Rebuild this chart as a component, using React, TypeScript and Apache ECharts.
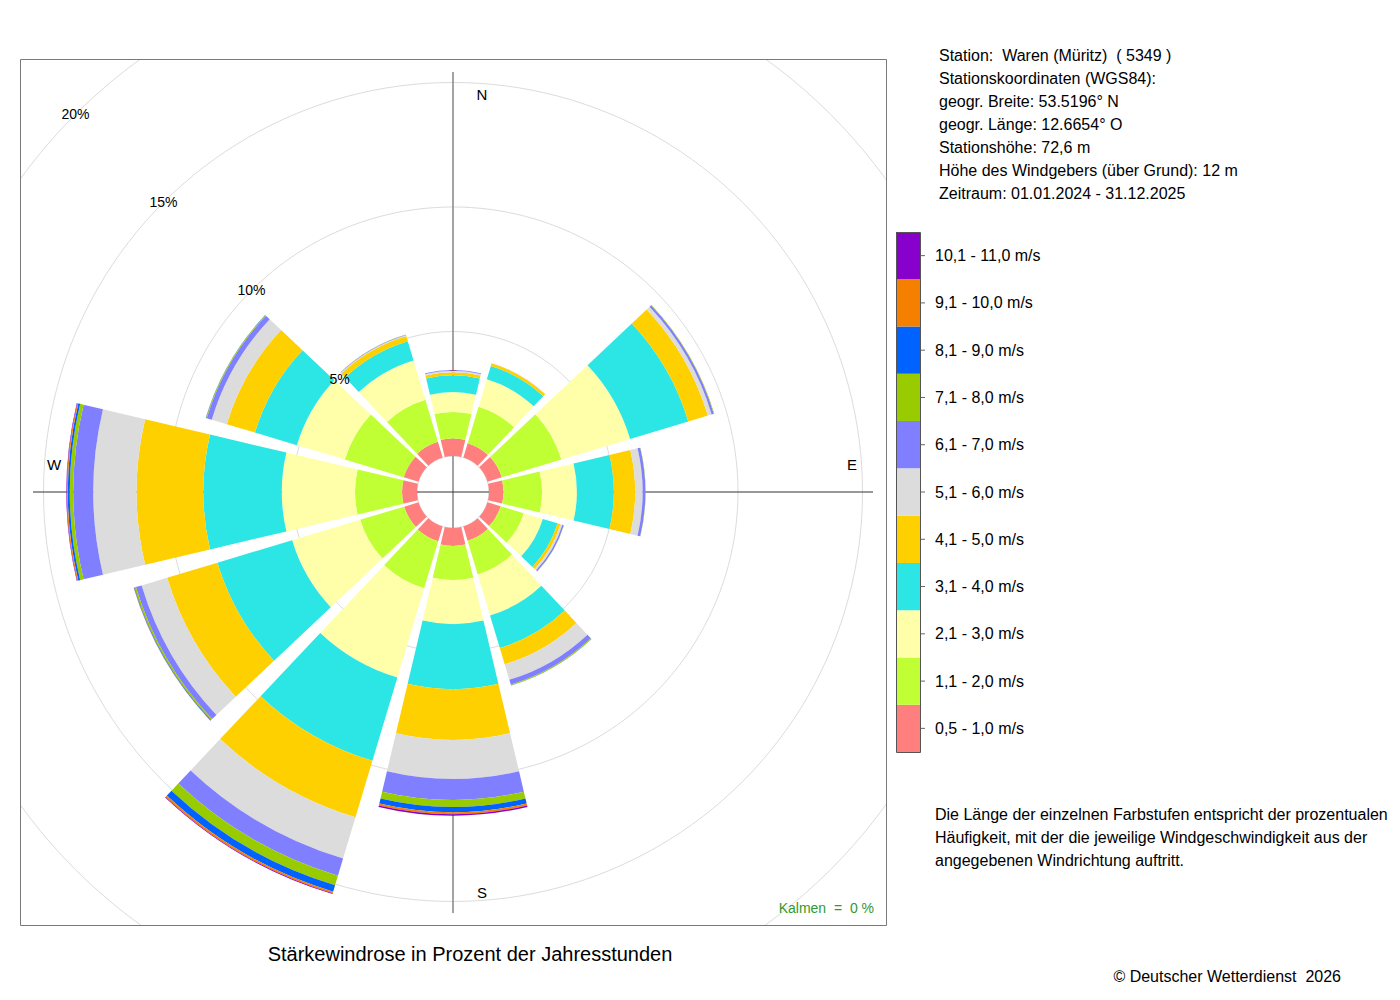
import React, { useEffect, useRef } from 'react';
import * as echarts from 'echarts';

// Wind directions (sector centres, clockwise from north)
const directions = ['N', 'NNO', 'ONO', 'O', 'OSO', 'SSO', 'S', 'SSW', 'WSW', 'W', 'WNW', 'NNW'];

// Speed classes (legend labels) and colours
const speedClasses = [
  '0,5 - 1,0 m/s', '1,1 - 2,0 m/s', '2,1 - 3,0 m/s', '3,1 - 4,0 m/s', '4,1 - 5,0 m/s',
  '5,1 - 6,0 m/s', '6,1 - 7,0 m/s', '7,1 - 8,0 m/s', '8,1 - 9,0 m/s', '9,1 - 10,0 m/s', '10,1 - 11,0 m/s',
];
const classColors = [
  '#FF7F7F', '#BFFF33', '#FFFFAA', '#2BE6E4', '#FFD000',
  '#DCDCDC', '#7F7FFF', '#99CC00', '#0062FF', '#F58000', '#8800CC',
];

// Percent of hours per direction (N, NNO, ONO, O, OSO, SSO, S, SSW, WSW, W, WNW, NNW)
const v05_10 = [0.70, 0.60, 0.60, 0.58, 0.55, 0.60, 0.72, 0.62, 0.60, 0.60, 0.62, 0.66];
const v11_20 = [1.07, 1.53, 2.50, 1.55, 0.97, 1.41, 1.37, 1.97, 1.85, 1.89, 2.47, 1.76];
const v21_30 = [0.80, 1.15, 2.88, 1.40, 0.80, 1.72, 1.77, 3.74, 2.85, 2.94, 2.01, 1.65];
const v31_40 = [0.67, 0.56, 2.44, 1.48, 0.62, 1.37, 2.61, 3.49, 3.13, 3.15, 1.76, 0.80];
const v41_50 = [0.12, 0.11, 0.82, 0.86, 0.12, 0.68, 2.04, 2.37, 2.11, 2.68, 1.18, 0.22];
const v51_60 = [0.06, 0.01, 0.16, 0.30, 0.08, 0.65, 1.57, 1.73, 1.07, 1.74, 0.63, 0.04];
const v61_70 = [0.03, 0.005, 0.09, 0.11, 0.06, 0.20, 0.84, 0.72, 0.24, 0.80, 0.21, 0.02];
const v71_80 = [0.0, 0.0, 0.02, 0.01, 0.01, 0.03, 0.28, 0.40, 0.06, 0.14, 0.03, 0.005];
const v81_90 = [0.0, 0.0, 0.0, 0.0, 0.0, 0.01, 0.21, 0.27, 0.02, 0.08, 0.01, 0.0];
const v91_100 = [0.0, 0.0, 0.0, 0.0, 0.0, 0.0, 0.08, 0.07, 0.01, 0.04, 0.0, 0.0];
const v101_110 = [0.0, 0.0, 0.0, 0.0, 0.0, 0.0, 0.06, 0.03, 0.005, 0.02, 0.0, 0.0];
const classValues = [v05_10, v11_20, v21_30, v31_40, v41_50, v51_60, v61_70, v71_80, v81_90, v91_100, v101_110];

// Radial ticks (percent)
const radialMax = 20;
const radialInterval = 5;

// Compass labels
const compassLabels = ['N', 'E', 'S', 'W'];

// Texts
const infoLines = [
  'Station:  Waren (Müritz)  ( 5349 )',
  'Stationskoordinaten (WGS84):',
  'geogr. Breite: 53.5196° N',
  'geogr. Länge: 12.6654° O',
  'Stationshöhe: 72,6 m',
  'Höhe des Windgebers (über Grund): 12 m',
  'Zeitraum: 01.01.2024 - 31.12.2025',
];
const noteLines = [
  'Die Länge der einzelnen Farbstufen entspricht der prozentualen',
  'Häufigkeit, mit der die jeweilige Windgeschwindigkeit aus der',
  'angegebenen Windrichtung auftritt.',
];
const titleText = 'Stärkewindrose in Prozent der Jahresstunden';
const calmText = 'Kalmen  =  0 %';
const copyrightText = '© Deutscher Wetterdienst  2026';

const FONT = '"Liberation Sans", Arial, Helvetica, sans-serif';

function txt(x: number, y: number, text: string, size: number, align: string, fill = '#000', z = 60) {
  return {
    type: 'text',
    x,
    y,
    z,
    silent: true,
    style: {
      text,
      fill,
      font: `${size}px ${FONT}`,
      align,
      textAlign: align,
      verticalAlign: 'middle',
      textVerticalAlign: 'middle',
    },
  };
}

export default function App() {
  const ref = useRef<HTMLDivElement>(null);

  useEffect(() => {
    if (!ref.current) return;
    const chart = echarts.init(ref.current, null, { renderer: 'svg' });

    const CX = 453;
    const CY = 492;
    const R0 = 36;
    const R1 = 534;
    const FRAME = { x: 20, y: 59, w: 866, h: 866 };

    const series = classValues.map((vals, i) => ({
      type: 'bar',
      name: speedClasses[i],
      coordinateSystem: 'polar',
      polarIndex: 0,
      stack: 'rose',
      data: vals,
      barCategoryGap: '11.3%',
      itemStyle: { color: classColors[i] },
      silent: true,
      z: 2,
    }));

    const graphics: any[] = [];
    // Cross lines (under the bars)
    graphics.push({
      type: 'line', z: 1, silent: true,
      shape: { x1: CX, y1: CY - 420, x2: CX, y2: CY + 421 },
      style: { stroke: '#8c8c8c', lineWidth: 1.6 },
    });
    graphics.push({
      type: 'line', z: 1, silent: true,
      shape: { x1: CX - 420, y1: CY, x2: CX + 420, y2: CY },
      style: { stroke: '#333', lineWidth: 1 },
    });

    // White masks clipping the grid circles to the frame
    const maskStyle = { fill: '#fff' };
    graphics.push({ type: 'rect', z: 50, silent: true, shape: { x: 0, y: 0, width: 1400, height: FRAME.y }, style: maskStyle });
    graphics.push({ type: 'rect', z: 50, silent: true, shape: { x: 0, y: FRAME.y + FRAME.h, width: 1400, height: 1000 - FRAME.y - FRAME.h }, style: maskStyle });
    graphics.push({ type: 'rect', z: 50, silent: true, shape: { x: 0, y: 0, width: FRAME.x, height: 1000 }, style: maskStyle });
    graphics.push({ type: 'rect', z: 50, silent: true, shape: { x: FRAME.x + FRAME.w, y: 0, width: 1400 - FRAME.x - FRAME.w, height: 1000 }, style: maskStyle });
    // Frame
    graphics.push({
      type: 'rect', z: 55, silent: true,
      shape: { x: FRAME.x + 0.5, y: FRAME.y + 0.5, width: FRAME.w, height: FRAME.h },
      style: { fill: 'none', stroke: '#7a7a7a', lineWidth: 1 },
    });

    // Compass labels
    const compassPos = [
      [CX + 29, CY - 398],
      [CX + 399, CY - 28],
      [CX + 29, CY + 400],
      [CX - 399, CY - 28],
    ];
    compassLabels.forEach((l, i) => {
      graphics.push(txt(compassPos[i][0], compassPos[i][1], l, 15, 'center'));
    });

    // Calm text
    graphics.push(txt(874, 908, calmText, 14, 'right', '#2f9a2f'));

    // Info block
    infoLines.forEach((l, i) => {
      graphics.push(txt(939, 55 + i * 23.15, l, 16, 'left'));
    });

    // Colour bar legend
    const LX = 896;
    const LY = 232;
    const LW = 24;
    const LH = 520;
    const n = speedClasses.length;
    const cellH = LH / n;
    for (let i = 0; i < n; i++) {
      const k = n - 1 - i; // top is highest class
      const y = LY + k * cellH;
      graphics.push({
        type: 'rect', z: 60, silent: true,
        shape: { x: LX, y, width: LW, height: cellH },
        style: { fill: classColors[i] },
      });
      graphics.push({
        type: 'line', z: 60, silent: true,
        shape: { x1: LX + LW, y1: y + cellH / 2, x2: LX + LW + 5, y2: y + cellH / 2 },
        style: { stroke: '#666', lineWidth: 1 },
      });
      graphics.push(txt(935, y + cellH / 2, speedClasses[i], 16, 'left'));
    }
    graphics.push({
      type: 'rect', z: 61, silent: true,
      shape: { x: LX + 0.5, y: LY + 0.5, width: LW, height: LH },
      style: { fill: 'none', stroke: '#555', lineWidth: 1 },
    });

    // Note
    noteLines.forEach((l, i) => {
      graphics.push(txt(935, 814 + i * 23, l, 16, 'left'));
    });

    // Title & copyright
    graphics.push(txt(470, 954, titleText, 20, 'center'));
    graphics.push(txt(1341, 976, copyrightText, 16, 'right'));

    const option: any = {
      animation: false,
      backgroundColor: '#fff',
      textStyle: { fontFamily: FONT },
      polar: [
        { center: [CX, CY], radius: [R0, R1] },
        { center: [CX, CY], radius: [R0, R1] },
      ],
      angleAxis: [
        {
          polarIndex: 0,
          type: 'category',
          data: directions,
          startAngle: 105,
          clockwise: true,
          boundaryGap: true,
          axisLine: { show: false },
          axisTick: { show: false },
          axisLabel: { show: false },
          splitLine: { show: false },
          splitArea: { show: false },
        },
        {
          polarIndex: 1,
          type: 'value',
          min: 0,
          max: 360,
          startAngle: 135,
          show: false,
        },
      ],
      radiusAxis: [
        {
          polarIndex: 0,
          type: 'value',
          min: 0,
          max: radialMax,
          interval: radialInterval,
          axisLine: { show: false },
          axisTick: { show: false },
          axisLabel: { show: false },
          splitLine: { show: true, lineStyle: { color: '#dcdcdc', width: 1 } },
          splitArea: { show: false },
        },
        {
          polarIndex: 1,
          type: 'value',
          min: 0,
          max: radialMax,
          interval: radialInterval,
          z: 20,
          axisLine: { show: false },
          axisTick: { show: false },
          splitLine: { show: false },
          axisLabel: {
            show: true,
            showMinLabel: false,
            formatter: '{value}%',
            margin: 0,
            rotate: 0,
            align: 'center',
            verticalAlign: 'middle',
            color: '#000',
            fontSize: 14,
            fontFamily: FONT,
          },
        },
      ],
      series,
      graphic: { elements: graphics },
    };

    chart.setOption(option);
    return () => chart.dispose();
  }, []);

  return (
    <div
      ref={ref}
      style={{ position: 'fixed', left: 0, top: 0, width: 1400, height: 1000, background: '#fff' }}
    />
  );
}
